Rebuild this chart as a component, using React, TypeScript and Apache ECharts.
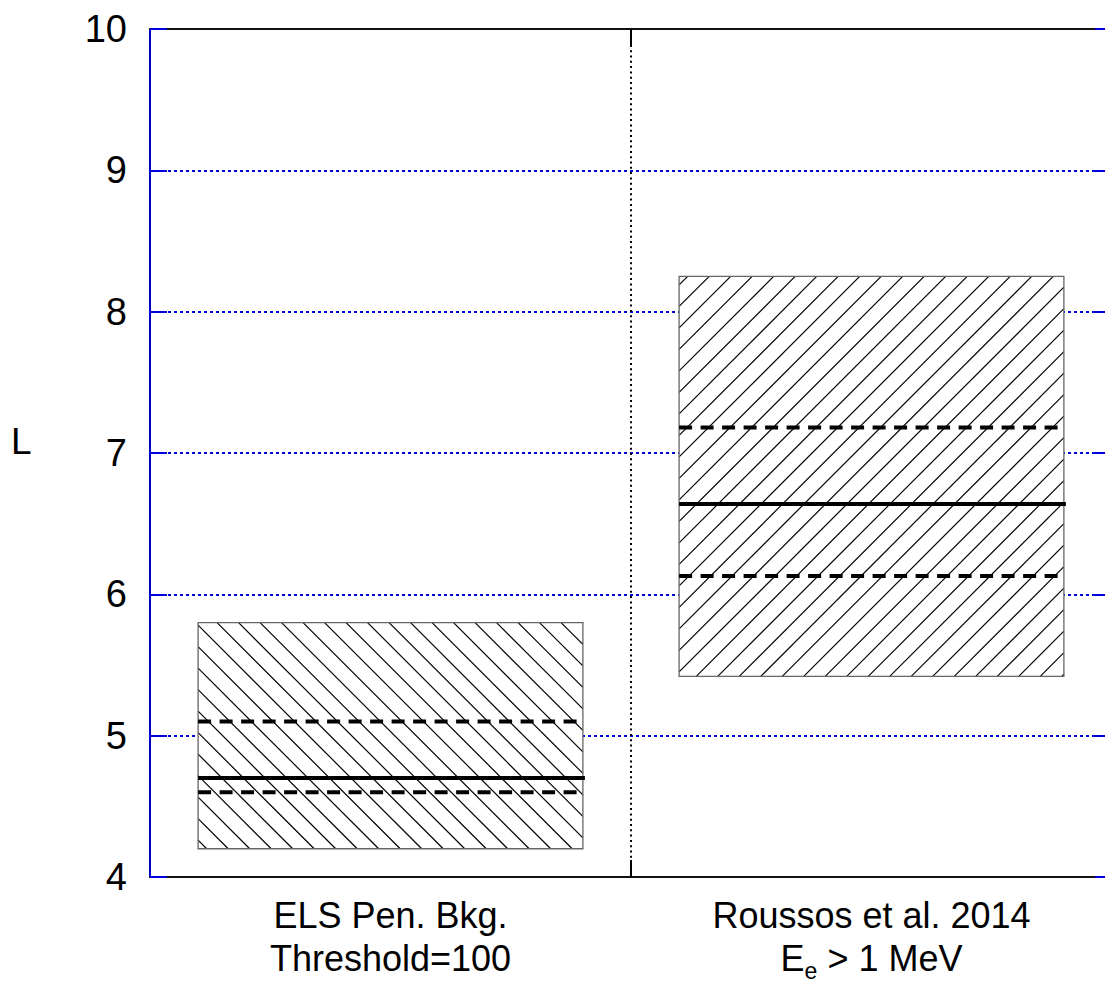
import React, { useEffect, useRef } from "react";
import * as echarts from "echarts";

// Data
const categories = ["ELS Pen. Bkg.\nThreshold=100", "Roussos et al. 2014\n{n|E}{s|e}{n| > 1 MeV}"];
const categoryPos = [0.5, 1.5];
const boxX0 = [0.1, 1.1];
const boxX1 = [0.9, 1.9];
const lowL = [4.2, 5.42];
const highL = [5.8, 8.25];
const medianL = [4.7, 6.64];
const lowerDashL = [4.6, 6.13];
const upperDashL = [5.1, 7.18];
const hatchDir = [-1, 1]; // -1: "\" , 1: "/"
const yTicks = [4, 5, 6, 7, 8, 9, 10];
const yAxisName = "L";

const FONT = "'Liberation Sans', Arial, sans-serif";

export default function App() {
  const ref = useRef<HTMLDivElement>(null);
  useEffect(() => {
    if (!ref.current) return;
    const chart = echarts.init(ref.current, undefined, { renderer: "svg" });
    const data = boxX0.map((_, i) => [
      boxX0[i], boxX1[i], lowL[i], highL[i], medianL[i], lowerDashL[i], upperDashL[i], hatchDir[i],
    ]);
    const renderItem = (params: any, api: any) => {
      const x0 = api.value(0), x1 = api.value(1), lo = api.value(2), hi = api.value(3);
      const med = api.value(4), q1 = api.value(5), q3 = api.value(6), dir = api.value(7);
      const [L, T] = api.coord([x0, hi]);
      const [R, B] = api.coord([x1, lo]);
      const children: any[] = [];
      children.push({ type: "rect", shape: { x: L, y: T, width: R - L, height: B - T }, style: { fill: "#fff", stroke: null } });
      const step = 21.5;
      if (dir > 0) {
        // x + y = c
        for (let c = L + T + step * 0.4; c < R + B; c += step) {
          const xa = Math.max(L, c - B), xb = Math.min(R, c - T);
          if (xb <= xa) continue;
          children.push({ type: "line", shape: { x1: xa, y1: c - xa, x2: xb, y2: c - xb }, style: { stroke: "#000", lineWidth: 1.2 } });
        }
      } else {
        // x - y = c
        for (let c = L - B + step * 0.4; c < R - T; c += step) {
          const xa = Math.max(L, T + c), xb = Math.min(R, B + c);
          if (xb <= xa) continue;
          children.push({ type: "line", shape: { x1: xa, y1: xa - c, x2: xb, y2: xb - c }, style: { stroke: "#000", lineWidth: 1.2 } });
        }
      }
      children.push({ type: "rect", shape: { x: L, y: T, width: R - L, height: B - T }, style: { fill: null, stroke: "#666", lineWidth: 1.3 } });
      const ym = api.coord([x0, med])[1];
      const y1 = api.coord([x0, q1])[1];
      const y3 = api.coord([x0, q3])[1];
      children.push({ type: "line", shape: { x1: L, y1: ym, x2: R + 2, y2: ym }, style: { stroke: "#000", lineWidth: 4 } });
      children.push({ type: "line", shape: { x1: L, y1: y1, x2: R - 6, y2: y1 }, style: { stroke: "#000", lineWidth: 4, lineDash: [13, 8.5] } });
      children.push({ type: "line", shape: { x1: L, y1: y3, x2: R - 6, y2: y3 }, style: { stroke: "#000", lineWidth: 4, lineDash: [13, 8.5] } });
      return { type: "group", children };
    };
    chart.setOption({
      animation: false,
      backgroundColor: "#fff",
      grid: { left: 150, top: 29, width: 962, height: 848 },
      graphic: [
        {
          type: "text",
          left: 11,
          top: 423,
          style: { text: yAxisName, fill: "#000", font: `37px ${FONT}` },
        },
      ],
      xAxis: [
        {
          type: "value",
          min: 0,
          max: 2,
          interval: 1,
          position: "bottom",
          axisLine: { show: true, onZero: false, lineStyle: { color: "#111", width: 2 } },
          axisTick: { show: true, inside: true, length: 17, customValues: [1], lineStyle: { color: "#000", width: 2 } },
          axisLabel: {
            show: true,
            customValues: categoryPos,
            margin: 17,
            color: "#000",
            fontFamily: FONT,
            fontSize: 36,
            lineHeight: 43,
            formatter: (v: number) => categories[categoryPos.indexOf(v)] ?? "",
            rich: {
              n: { fontFamily: FONT, fontSize: 36, color: "#000", lineHeight: 43 },
              s: { fontFamily: FONT, fontSize: 23, color: "#000", lineHeight: 43, padding: [24, 0, 0, 0] },
            },
          },
          splitLine: { show: true, lineStyle: { color: "#000", width: 2, type: [2, 3.3] } },
        },
        {
          type: "value",
          min: 0,
          max: 2,
          interval: 1,
          position: "top",
          axisLine: { show: true, onZero: false, lineStyle: { color: "#111", width: 2 } },
          axisTick: { show: true, inside: true, length: 17, customValues: [1], lineStyle: { color: "#000", width: 2 } },
          axisLabel: { show: false },
          splitLine: { show: false },
        },
      ],
      yAxis: [
        {
          type: "value",
          min: 4,
          max: 10,
          interval: 1,
          position: "left",
          axisLine: { show: true, onZero: false, lineStyle: { color: "#0000cc", width: 2 } },
          axisTick: { show: true, inside: true, length: 17, lineStyle: { color: "#0000dd", width: 2 } },
          axisLabel: {
            show: true,
            margin: 23,
            color: "#000",
            fontFamily: FONT,
            fontSize: 38,
            customValues: yTicks,
          },
          splitLine: { show: true, lineStyle: { color: "#0000dd", width: 2, type: [3, 3] } },
        },
        {
          type: "value",
          min: 4,
          max: 10,
          interval: 1,
          position: "right",
          axisLine: { show: true, onZero: false, lineStyle: { color: "#0000cc", width: 2 } },
          axisTick: { show: true, inside: true, length: 17, lineStyle: { color: "#0000dd", width: 2 } },
          axisLabel: { show: false },
          splitLine: { show: false },
        },
      ],
      series: [
        {
          type: "custom",
          coordinateSystem: "cartesian2d",
          xAxisIndex: 0,
          yAxisIndex: 0,
          renderItem,
          encode: { x: [0, 1], y: [2, 3] },
          data,
          z: 5,
        },
      ],
    });
    return () => chart.dispose();
  }, []);
  return (
    <div style={{ position: "fixed", left: 0, top: 0, width: 1105, height: 985, overflow: "hidden", background: "#fff" }}>
      <div ref={ref} style={{ width: 1130, height: 985 }} />
    </div>
  );
}
